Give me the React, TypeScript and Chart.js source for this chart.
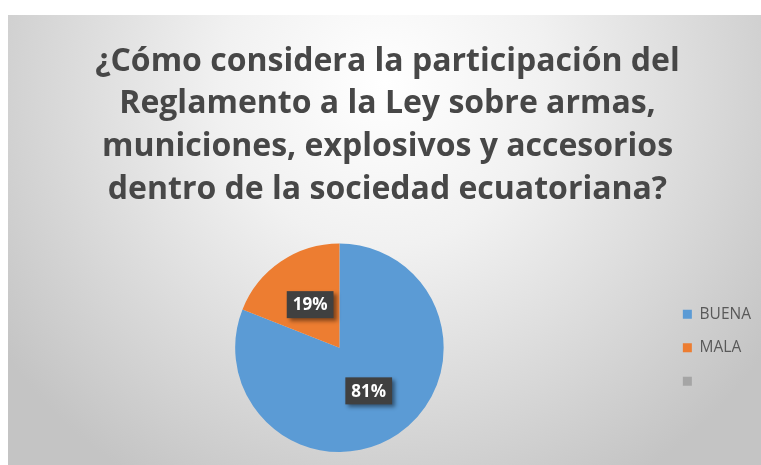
import React, { useEffect, useRef } from "react";
import { Chart, registerables } from "chart.js";

Chart.register(...registerables);

const titleLines = [
  "¿Cómo considera la participación del",
  "Reglamento a la Ley sobre armas,",
  "municiones, explosivos y accesorios",
  "dentro de la sociedad ecuatoriana?",
];
const categories = ["BUENA", "MALA", ""];
const values = [81, 19, 0];
const colors = ["#5B9BD5", "#ED7D31", "#A5A5A5"];

const bgPlugin = {
  id: "bgGradient",
  beforeDraw(chart: any) {
    const { ctx, width, height } = chart;
    ctx.save();
    const g = ctx.createRadialGradient(width * 0.5, height * 0.15, 0, width * 0.5, height * 0.15, width * 0.62);
    g.addColorStop(0, "#ffffff");
    g.addColorStop(0.35, "#f1f1f1");
    g.addColorStop(1, "#c4c4c4");
    ctx.fillStyle = g;
    ctx.fillRect(0, 0, width, height);
    ctx.restore();
  },
};

const labelPlugin = {
  id: "pctLabels",
  afterDatasetsDraw(chart: any) {
    const { ctx } = chart;
    const meta = chart.getDatasetMeta(0);
    const data = chart.data.datasets[0].data as number[];
    const total = data.reduce((a, b) => a + b, 0);
    meta.data.forEach((arc: any, i: number) => {
      const v = data[i];
      if (!v) return;
      const p = arc.getCenterPoint();
      const txt = Math.round((v / total) * 100) + "%";
      ctx.save();
      ctx.font = "bold 17px 'Open Sans'";
      const w = ctx.measureText(txt).width + 12;
      const h = 27;
      ctx.shadowColor = "rgba(0,0,0,0.45)";
      ctx.shadowOffsetX = 3;
      ctx.shadowOffsetY = 3;
      ctx.shadowBlur = 4;
      ctx.fillStyle = "#404040";
      ctx.fillRect(p.x - w / 2, p.y - h / 2, w, h);
      ctx.shadowColor = "transparent";
      ctx.fillStyle = "#ffffff";
      ctx.textAlign = "center";
      ctx.textBaseline = "middle";
      ctx.fillText(txt, p.x, p.y + 1);
      ctx.restore();
    });
  },
};

export default function App() {
  const ref = useRef<HTMLCanvasElement>(null);
  useEffect(() => {
    if (!ref.current) return;
    const chart = new Chart(ref.current, {
      type: "pie",
      data: {
        labels: categories,
        datasets: [
          {
            data: values,
            backgroundColor: colors,
            borderWidth: 0,
          },
        ],
      },
      options: {
        animation: false,
        responsive: true,
        maintainAspectRatio: false,
        layout: { padding: { left: 6, right: 0, top: 0, bottom: 13 } },
        plugins: {
          tooltip: { enabled: false },
          title: {
            display: true,
            text: titleLines,
            color: "#474747",
            font: { family: "'Open Sans'", size: 32, weight: "bold", lineHeight: 1.34 },
            padding: { top: 25, bottom: 32 },
          },
          legend: {
            position: "right",
            align: "center",
            fullSize: false,
            labels: {
              color: "#595959",
              font: { family: "'Open Sans'", size: 15.5 },
              boxWidth: 9,
              boxHeight: 9,
              padding: 18,
            },
          },
        },
      },
      plugins: [bgPlugin, labelPlugin],
    });
    return () => chart.destroy();
  }, []);
  return (
    <div style={{ position: "absolute", left: 8, top: 15, width: 753, height: 450 }}>
      <canvas ref={ref} />
    </div>
  );
}
